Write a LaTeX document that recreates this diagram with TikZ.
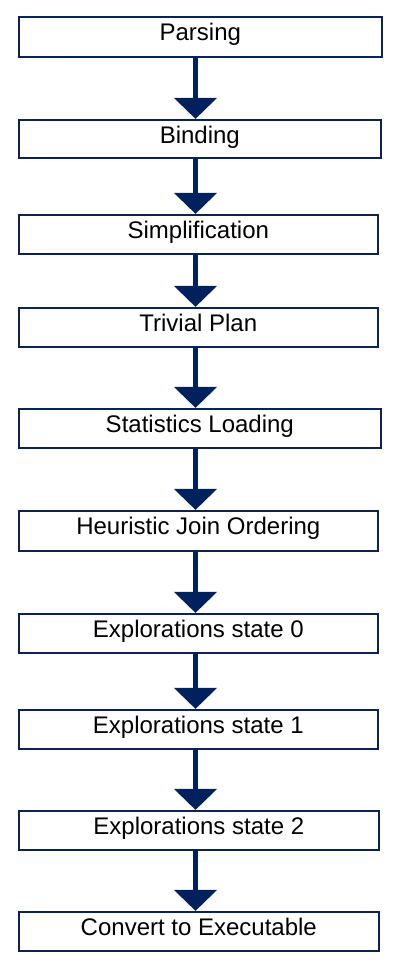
\documentclass[tikz,border=0pt]{standalone}
\usepackage{fontspec}
\setmainfont{Liberation Sans}
\usetikzlibrary{arrows.meta}
\definecolor{navy}{HTML}{0B2252}
\definecolor{arrownavy}{HTML}{00205E}
\tikzset{
  stagebox/.style={draw=navy, line width=1.8bp, rectangle, inner sep=0pt,
    anchor=north west, text height=24bp, text depth=15bp,
    font=\fontsize{24bp}{28bp}\selectfont, text=black, fill=white},
  flowarrow/.style={draw=arrownavy, line width=5bp,
    -{Triangle[width=42bp,length=21bp]}}
}
\begin{document}
\begin{tikzpicture}[x=1bp,y=-1bp]
\useasboundingbox (0,0) rectangle (400,965);
\node[stagebox, minimum width=363bp, text depth=16bp] (n1) at (17.9,15.9) {Parsing};
\node[stagebox, minimum width=362bp, text depth=14bp] (n2) at (17.9,118.9) {Binding};
\node[stagebox, minimum width=359bp] (n3) at (17.9,213.9) {Simplification};
\node[stagebox, minimum width=359bp] (n4) at (17.9,306.9) {Trivial Plan};
\node[stagebox, minimum width=362bp] (n5) at (17.9,407.9) {Statistics Loading};
\node[stagebox, minimum width=359bp, text depth=16bp] (n6) at (17.9,509.9) {Heuristic Join Ordering};
\node[stagebox, minimum width=359bp] (n7) at (17.9,612.9) {Explorations state 0};
\node[stagebox, minimum width=359bp] (n8) at (17.9,708.9) {Explorations state 1};
\node[stagebox, minimum width=360bp] (n9) at (17.9,809.9) {Explorations state 2};
\node[stagebox, minimum width=360bp] (n10) at (17.9,910.9) {Convert to Executable};
\coordinate (ax) at (195.5,0);
\foreach \a/\b in {n1/n2,n2/n3,n3/n4,n4/n5,n5/n6,n6/n7,n7/n8,n8/n9,n9/n10}{
  \draw[flowarrow] (\a.south -| ax) -- (\b.north -| ax);
}
\end{tikzpicture}
\end{document}
